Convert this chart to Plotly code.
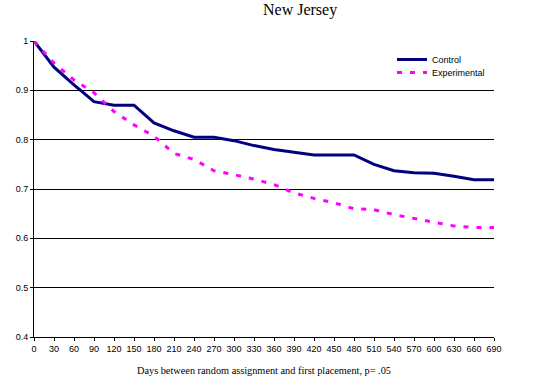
import plotly.graph_objects as go

days = list(range(0, 691, 30))
control = [1.000, 0.947, 0.911, 0.877, 0.870, 0.870, 0.834, 0.818, 0.805, 0.805,
           0.798, 0.788, 0.780, 0.774, 0.769, 0.769, 0.769, 0.750, 0.737, 0.733,
           0.732, 0.726, 0.719, 0.719]
experimental = [1.000, 0.955, 0.921, 0.895, 0.857, 0.830, 0.807, 0.772, 0.760, 0.737,
                0.729, 0.720, 0.709, 0.692, 0.681, 0.672, 0.660, 0.658, 0.648, 0.640,
                0.633, 0.625, 0.622, 0.622]
y_ticks = [0.4, 0.5, 0.6, 0.7, 0.8, 0.9, 1.0]
y_tick_labels = ["0.4", "0.5", "0.6", "0.7", "0.8", "0.9", "1"]
x_tick_labels = [str(d) for d in days]

title_text = "New Jersey"
x_title = "Days between random assignment and first placement, p= .05"

fig = go.Figure()
fig.add_trace(go.Scatter(x=days, y=control, mode="lines", name="Control",
                         line=dict(color="#000080", width=3), legend="legend"))
fig.add_trace(go.Scatter(x=days, y=experimental, mode="lines", name="Experimental",
                         line=dict(color="#FF00FF", width=3, dash="5px,8px"), legend="legend2"))

W, H = 539, 389
L, R, T, B = 34, 45, 41, 52
pw, ph = W - L - R, H - T - B

def px_x(p):  # page px -> paper x
    return (p - L) / pw

def px_y(p):  # page px -> paper y
    return 1 - (p - T) / ph

legfont = dict(size=9, family="Liberation Sans, Arial, sans-serif", color="black")
fig.update_layout(
    width=W, height=H,
    margin=dict(l=L, r=R, t=T, b=B, pad=0, autoexpand=False),
    paper_bgcolor="white", plot_bgcolor="white",
    font=dict(family="Liberation Sans, Arial, sans-serif", size=9, color="black"),
    showlegend=True,
    legend=dict(x=px_x(392), y=px_y(45), xanchor="left", yanchor="top",
                bgcolor="rgba(0,0,0,0)", font=legfont, itemwidth=30),
    legend2=dict(x=px_x(392), y=px_y(58), xanchor="left", yanchor="top",
                 bgcolor="rgba(0,0,0,0)", font=legfont, itemwidth=30),
    xaxis=dict(range=[0, 690], tickmode="array", tickvals=days, ticktext=x_tick_labels,
               showgrid=False, zeroline=False, showline=True, linecolor="black", linewidth=1,
               ticks="outside", ticklen=3, tickcolor="black", tickwidth=1,
               tickfont=dict(size=9), fixedrange=True, automargin=False,
               title=dict(text=x_title, standoff=13,
                          font=dict(family="Liberation Serif, Times New Roman, serif", size=10.3))),
    yaxis=dict(range=[0.4, 1.0], tickmode="array", tickvals=y_ticks, ticktext=y_tick_labels,
               showgrid=True, gridcolor="black", gridwidth=1, zeroline=False,
               showline=True, linecolor="black", linewidth=1,
               ticks="outside", ticklen=3, tickcolor="black", tickwidth=1,
               tickfont=dict(size=9), fixedrange=True, automargin=False),
    annotations=[dict(text=title_text, xref="paper", yref="paper",
                      x=px_x(300), y=px_y(10), xanchor="center", yanchor="middle",
                      showarrow=False,
                      font=dict(family="Liberation Serif, Times New Roman, serif", size=16, color="black"))],
)

fig.write_html("out.html", config={"displayModeBar": False},
               post_script="document.body.style.margin='0';")
